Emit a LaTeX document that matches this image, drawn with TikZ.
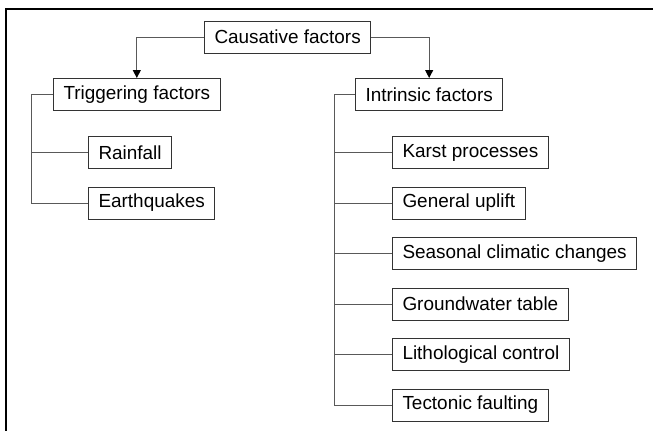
\documentclass[tikz,border=0pt]{standalone}
\usepackage{fontspec}
\setmainfont{Liberation Sans}
\usetikzlibrary{arrows.meta}

\tikzset{
  factor/.style={draw=black!80, line width=0.75pt, inner xsep=7.5pt, inner ysep=0pt,
    minimum height=24pt, anchor=west, font=\fontsize{14.2}{17}\selectfont},
  link/.style={draw=black!65, line width=0.75pt},
  arr/.style={link, -{Triangle[length=6pt,width=6pt,color=black]}}
}

\begin{document}
\begin{tikzpicture}[x=0.75pt,y=-0.75pt]
  \useasboundingbox (0,0) rectangle (653,430);
  \clip (0,0) rectangle (653,430);
  % frame
  \draw[line width=1.5pt] (6,9) rectangle (700,480);

  \node[factor] (cause) at (204,37) {Causative factors};
  \node[factor] (trig) at (53,94.5) {Triggering factors};
  \node[factor] (rain) at (88,152.5) {Rainfall};
  \node[factor] (quake) at (88,203) {Earthquakes};
  \node[factor] (intr) at (355,94.5) {Intrinsic factors};
  \node[factor] (karst) at (392,152.5) {Karst processes};
  \node[factor] (uplift) at (392,203) {General uplift};
  \node[factor] (season) at (392,253.5) {Seasonal climatic changes};
  \node[factor] (ground) at (392,304) {Groundwater table};
  \node[factor] (litho) at (392,354.5) {Lithological control};
  \node[factor] (tecto) at (392,405) {Tectonic faulting};

  \draw[arr] (cause.west) -| (trig.north);
  \draw[arr] (cause.east) -| (intr.north);

  % triggering branch
  \coordinate (tl) at (31,94.5);
  \draw[link] (trig.west) -- (tl) |- (quake.west);
  \draw[link] (tl |- rain.west) -- (rain.west);

  % intrinsic branch
  \coordinate (il) at (334,94.5);
  \draw[link] (intr.west) -- (il) |- (tecto.west);
  \foreach \n in {karst,uplift,season,ground,litho}
    \draw[link] (il |- \n.west) -- (\n.west);
\end{tikzpicture}
\end{document}
